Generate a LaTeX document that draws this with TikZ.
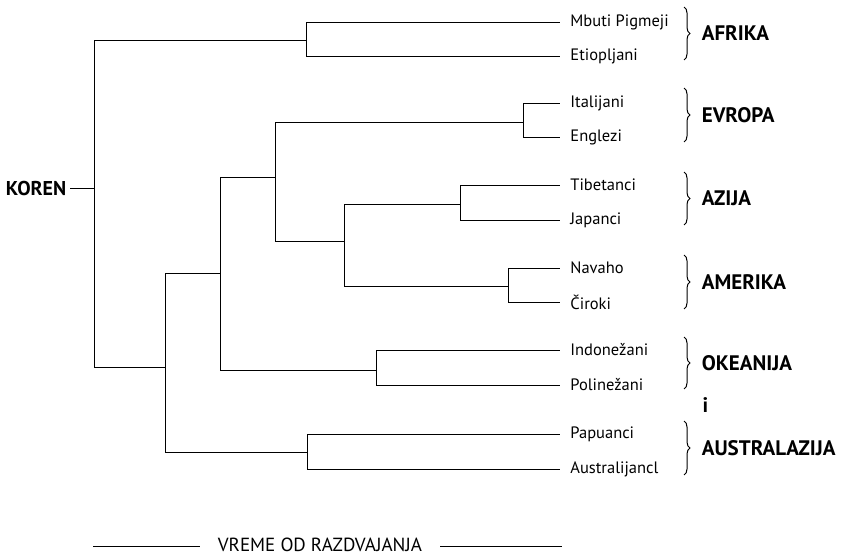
\documentclass[tikz,border=0pt]{standalone}
\usepackage{fontspec}
\setmainfont{PT Sans}
\usetikzlibrary{positioning,decorations.pathreplacing}

\begin{document}
\begin{tikzpicture}[
      x=1pt, y=-1pt,
      line width=0.8pt,
      leaf/.style={anchor=west, inner xsep=10pt, inner ysep=0pt, font=\fontsize{16.5}{19}\selectfont},
      region/.style={font=\fontsize{21}{23}\selectfont\bfseries},
      brace/.style={decorate, decoration={brace, amplitude=6pt}, line width=1pt},
      time/.style={inner xsep=18pt, inner ysep=0pt, font=\fontsize{19}{21}\selectfont},
    ]
    \useasboundingbox (0,0) rectangle (850,556);

    % leaves
    \node[leaf] (mbuti) at (560,22) {Mbuti Pigmeji};
    \node[leaf] (etiop) at (560,56) {Etiopljani};
    \node[leaf] (ital) at (560,103) {Italijani};
    \node[leaf] (engl) at (560,137) {Englezi};
    \node[leaf] (tibet) at (560,185) {Tibetanci};
    \node[leaf] (japan) at (560,220) {Japanci};
    \node[leaf] (navaho) at (560,268) {Navaho};
    \node[leaf] (ciroki) at (560,302) {Čiroki};
    \node[leaf] (indon) at (560,350) {Indonežani};
    \node[leaf] (polin) at (560,385) {Polinežani};
    \node[leaf] (papua) at (560,434) {Papuanci};
    \node[leaf] (austr) at (560,469) {Australijancl};

    % branching points
    \coordinate (root) at (94,188);
    \coordinate (afr) at (306,40);
    \coordinate (n1) at (165,367);
    \coordinate (n2) at (220,273);
    \coordinate (n3) at (275,177);
    \coordinate (n4) at (344,241);
    \coordinate (eur) at (523,122);
    \coordinate (asi) at (460,204);
    \coordinate (ame) at (508,286);
    \coordinate (oce) at (376,370);
    \coordinate (aus) at (307,452);

    \node[region, anchor=east, font=\fontsize{20}{22}\selectfont\bfseries] (koren) at (70,188) {KOREN};
    \draw (koren) -- (root);

    \draw (root) |- (afr);
    \draw (root) |- (n1);
    \draw (n1) |- (n2);
    \draw (n1) |- (aus);
    \draw (n2) |- (n3);
    \draw (n2) |- (oce);
    \draw (n3) |- (eur);
    \draw (n3) |- (n4);
    \draw (n4) |- (asi);
    \draw (n4) |- (ame);

    \draw (afr) |- (mbuti.west);
    \draw (afr) |- (etiop.west);
    \draw (eur) |- (ital.west);
    \draw (eur) |- (engl.west);
    \draw (asi) |- (tibet.west);
    \draw (asi) |- (japan.west);
    \draw (ame) |- (navaho.west);
    \draw (ame) |- (ciroki.west);
    \draw (oce) |- (indon.west);
    \draw (oce) |- (polin.west);
    \draw (aus) |- (papua.west);
    \draw (aus) |- (austr.west);

    % regions
    \coordinate (bx) at (684,0);
    \draw[brace] ([yshift=15pt]mbuti.west -| bx) -- ([yshift=-4pt]etiop.west -| bx)
      node[region, midway, right=14pt] (afrika) {AFRIKA};
    \draw[brace] ([yshift=15pt]ital.west -| bx) -- ([yshift=-5pt]engl.west -| bx)
      node[region, midway, right=14pt] (evropa) {EVROPA};
    \draw[brace] ([yshift=13pt]tibet.west -| bx) -- ([yshift=-5pt]japan.west -| bx)
      node[region, midway, right=14pt] (azija) {AZIJA};
    \draw[brace] ([yshift=13pt]navaho.west -| bx) -- ([yshift=-7pt]ciroki.west -| bx)
      node[region, midway, right=14pt] (amerika) {AMERIKA};
    \draw[brace] ([yshift=13pt]indon.west -| bx) -- ([yshift=-4pt]polin.west -| bx)
      node[region, midway, right=14pt] (okeanija) {OKEANIJA};
    \draw[brace] ([yshift=13pt]papua.west -| bx) -- ([yshift=-6pt]austr.west -| bx)
      node[region, midway, right=14pt] (australazija) {AUSTRALAZIJA};
    \node[region, anchor=west] (i) at (699,405) {i};

    % time axis
    \node[time] (vreme) at (320,545) {VREME OD RAZDVAJANJA};
    \coordinate (tl) at (93,546);
    \coordinate (tr) at (562,546);
    \draw (tl) -- (tl -| vreme.west);
    \draw (tr -| vreme.east) -- (tr);
  \end{tikzpicture}
\end{document}
